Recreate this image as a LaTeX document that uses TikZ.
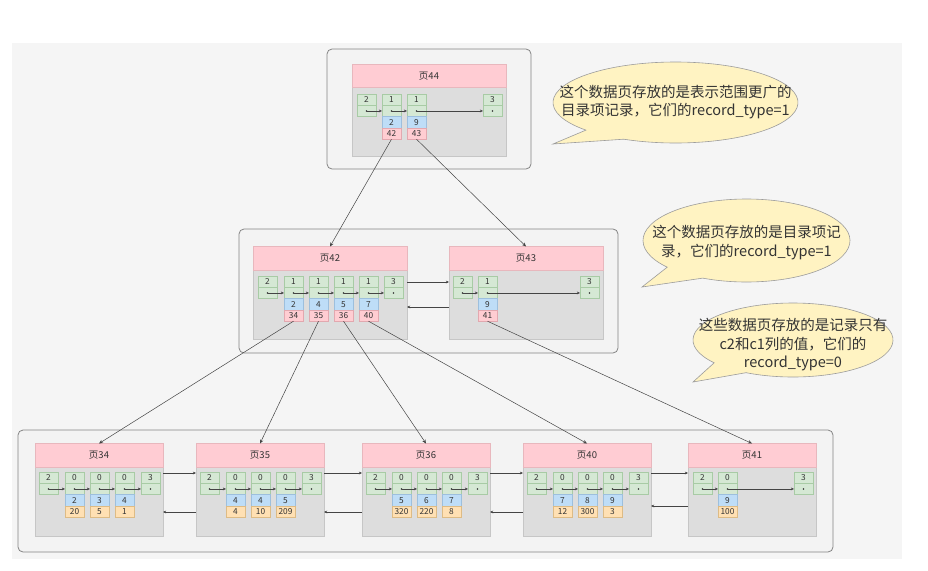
\documentclass[tikz,border=0pt]{standalone}
\usepackage{fontspec}
\setmainfont{Noto Sans CJK SC}
\usetikzlibrary{arrows.meta,positioning}
\definecolor{canvas}{HTML}{F5F5F5}
\definecolor{frameline}{HTML}{848484}
\definecolor{framefill}{HTML}{F3F3F3}
\definecolor{bodyfill}{HTML}{DDDDDD}
\definecolor{bodyline}{HTML}{C6C6C6}
\definecolor{headfill}{HTML}{FFCCD3}
\definecolor{headline}{HTML}{E8B7BD}
\definecolor{greenfill}{HTML}{D5E8D4}
\definecolor{greenline}{HTML}{A8CBA5}
\definecolor{bluefill}{HTML}{BEDDF7}
\definecolor{blueline}{HTML}{9DBFDD}
\definecolor{pinkfill}{HTML}{FFCDD2}
\definecolor{pinkline}{HTML}{E2A8AF}
\definecolor{orangefill}{HTML}{FFE0B3}
\definecolor{orangeline}{HTML}{DDBB85}
\definecolor{notefill}{HTML}{FFF3C2}
\definecolor{noteline}{HTML}{9C9C9C}
\definecolor{ink}{HTML}{333333}
\definecolor{wire}{HTML}{444444}
\tikzset{
  frame/.style={draw=frameline, fill=framefill, rounded corners=5pt, line width=0.8pt},
  pagebody/.style={draw=bodyline, fill=bodyfill, anchor=north west, minimum height=69pt,
                   inner sep=0pt, outer sep=0pt},
  pagehead/.style={draw=headline, fill=headfill, anchor=north west, minimum height=23.5pt,
                   inner sep=0pt, outer sep=0pt, font=\fontsize{9.5}{10}\selectfont, text=ink},
  wide/.style={minimum width=154pt},
  narrow/.style={minimum width=128pt},
  cell/.style={minimum width=19pt, minimum height=11.3pt, inner sep=0pt, outer sep=0pt,
               font=\fontsize{8.3}{9}\selectfont, text=ink},
  typecell/.style={cell, draw=greenline, fill=greenfill, anchor=north west},
  nextcell/.style={cell, draw=greenline, fill=greenfill,
                   path picture={\fill[ink] (path picture bounding box.center) circle (0.9pt);}},
  keycell/.style={cell, draw=blueline, fill=bluefill},
  childcell/.style={cell, draw=pinkline, fill=pinkfill},
  valcell/.style={cell, draw=orangeline, fill=orangefill},
  link/.style={-{Stealth[length=3.2pt,width=2.8pt]}, draw=wire, line width=0.5pt},
  down/.style={-{Stealth[length=4pt,width=3.5pt]}, draw=wire, line width=0.5pt},
  callout/.style={draw=noteline, fill=notefill, line width=0.6pt},
  note/.style={align=center, text=ink, font=\fontsize{14.5}{18.5}\selectfont, inner sep=0pt},
}
\begin{document}
\begin{tikzpicture}[x=1pt, y=-1pt]
  \useasboundingbox (0,0) rectangle (928,570);
  \fill[canvas] (12,43) rectangle (902,559);

  % outer frames
  \draw[frame] (327,49) rectangle (531,169);
  \draw[frame] (239,229) rectangle (618,353);
  \draw[frame] (18,430) rectangle (833,552);

  % pages
  \node[pagebody, wide] (pg44) at (352,87) {};
  \node[pagehead, wide] (pg44h) at (352,64) {页44};
  \node[pagebody, wide] (pg42) at (253,270) {};
  \node[pagehead, wide] (pg42h) at (253,246.5) {页42};
  \node[pagebody, wide] (pg43) at (449,270) {};
  \node[pagehead, wide] (pg43h) at (449,246.5) {页43};
  \node[pagebody, narrow] (pg34) at (35,467) {};
  \node[pagehead, narrow] (pg34h) at (35,443.5) {页34};
  \node[pagebody, narrow] (pg35) at (196,467) {};
  \node[pagehead, narrow] (pg35h) at (196,443.5) {页35};
  \node[pagebody, narrow] (pg36) at (362,467) {};
  \node[pagehead, narrow] (pg36h) at (362,443.5) {页36};
  \node[pagebody, narrow] (pg40) at (523,467) {};
  \node[pagehead, narrow] (pg40h) at (523,443.5) {页40};
  \node[pagebody, narrow] (pg41) at (688,467) {};
  \node[pagehead, narrow] (pg41h) at (688,443.5) {页41};

  % page 44 records
  \node[typecell] (t44a) at (357,94) {2}; \node[nextcell, below=0pt of t44a] (n44a) {};
  \node[typecell] (t44b) at (382,94) {1}; \node[nextcell, below=0pt of t44b] (n44b) {};
  \node[keycell, below=0pt of n44b] (k44b) {2}; \node[childcell, below=0pt of k44b] (c44b) {42};
  \node[typecell] (t44c) at (407,94) {1}; \node[nextcell, below=0pt of t44c] (n44c) {};
  \node[keycell, below=0pt of n44c] (k44c) {9}; \node[childcell, below=0pt of k44c] (c44c) {43};
  \node[typecell] (t44d) at (483,94) {3}; \node[nextcell, below=0pt of t44d] (n44d) {};
  \draw[link] (n44a.center) -- (n44b.west);
  \draw[link] (n44b.center) -- (n44c.west);
  \draw[link] (n44c.center) -- (n44d.west);

  % page 42 records
  \node[typecell] (t42a) at (258,276) {2}; \node[nextcell, below=0pt of t42a] (n42a) {};
  \node[typecell] (t42b) at (284,276) {1}; \node[nextcell, below=0pt of t42b] (n42b) {};
  \node[keycell, below=0pt of n42b] (k42b) {2}; \node[childcell, below=0pt of k42b] (c42b) {34};
  \node[typecell] (t42c) at (309,276) {1}; \node[nextcell, below=0pt of t42c] (n42c) {};
  \node[keycell, below=0pt of n42c] (k42c) {4}; \node[childcell, below=0pt of k42c] (c42c) {35};
  \node[typecell] (t42d) at (334,276) {1}; \node[nextcell, below=0pt of t42d] (n42d) {};
  \node[keycell, below=0pt of n42d] (k42d) {5}; \node[childcell, below=0pt of k42d] (c42d) {36};
  \node[typecell] (t42e) at (359,276) {1}; \node[nextcell, below=0pt of t42e] (n42e) {};
  \node[keycell, below=0pt of n42e] (k42e) {7}; \node[childcell, below=0pt of k42e] (c42e) {40};
  \node[typecell] (t42f) at (384,276) {3}; \node[nextcell, below=0pt of t42f] (n42f) {};
  \draw[link] (n42a.center) -- (n42b.west);
  \draw[link] (n42b.center) -- (n42c.west);
  \draw[link] (n42c.center) -- (n42d.west);
  \draw[link] (n42d.center) -- (n42e.west);
  \draw[link] (n42e.center) -- (n42f.west);

  % page 43 records
  \node[typecell] (t43a) at (453,276) {2}; \node[nextcell, below=0pt of t43a] (n43a) {};
  \node[typecell] (t43b) at (478,276) {1}; \node[nextcell, below=0pt of t43b] (n43b) {};
  \node[keycell, below=0pt of n43b] (k43b) {9}; \node[childcell, below=0pt of k43b] (c43b) {41};
  \node[typecell] (t43c) at (580,276) {3}; \node[nextcell, below=0pt of t43c] (n43c) {};
  \draw[link] (n43a.center) -- (n43b.west);
  \draw[link] (n43b.center) -- (n43c.west);

  % page 34 records
  \node[typecell] (t34a) at (39,472) {2}; \node[nextcell, below=0pt of t34a] (n34a) {};
  \node[typecell] (t34b) at (65,472) {0}; \node[nextcell, below=0pt of t34b] (n34b) {};
  \node[keycell, below=0pt of n34b] (k34b) {2}; \node[valcell, below=0pt of k34b] (v34b) {20};
  \node[typecell] (t34c) at (90,472) {0}; \node[nextcell, below=0pt of t34c] (n34c) {};
  \node[keycell, below=0pt of n34c] (k34c) {3}; \node[valcell, below=0pt of k34c] (v34c) {5};
  \node[typecell] (t34d) at (115,472) {0}; \node[nextcell, below=0pt of t34d] (n34d) {};
  \node[keycell, below=0pt of n34d] (k34d) {4}; \node[valcell, below=0pt of k34d] (v34d) {1};
  \node[typecell] (t34e) at (141,472) {3}; \node[nextcell, below=0pt of t34e] (n34e) {};
  \draw[link] (n34a.center) -- (n34b.west);
  \draw[link] (n34b.center) -- (n34c.west);
  \draw[link] (n34c.center) -- (n34d.west);
  \draw[link] (n34d.center) -- (n34e.west);

  % page 35 records
  \node[typecell] (t35a) at (200,472) {2}; \node[nextcell, below=0pt of t35a] (n35a) {};
  \node[typecell] (t35b) at (226,472) {0}; \node[nextcell, below=0pt of t35b] (n35b) {};
  \node[keycell, below=0pt of n35b] (k35b) {4}; \node[valcell, below=0pt of k35b] (v35b) {4};
  \node[typecell] (t35c) at (251,472) {0}; \node[nextcell, below=0pt of t35c] (n35c) {};
  \node[keycell, below=0pt of n35c] (k35c) {4}; \node[valcell, below=0pt of k35c] (v35c) {10};
  \node[typecell] (t35d) at (276,472) {0}; \node[nextcell, below=0pt of t35d] (n35d) {};
  \node[keycell, below=0pt of n35d] (k35d) {5}; \node[valcell, below=0pt of k35d] (v35d) {209};
  \node[typecell] (t35e) at (302,472) {3}; \node[nextcell, below=0pt of t35e] (n35e) {};
  \draw[link] (n35a.center) -- (n35b.west);
  \draw[link] (n35b.center) -- (n35c.west);
  \draw[link] (n35c.center) -- (n35d.west);
  \draw[link] (n35d.center) -- (n35e.west);

  % page 36 records
  \node[typecell] (t36a) at (366,472) {2}; \node[nextcell, below=0pt of t36a] (n36a) {};
  \node[typecell] (t36b) at (392,472) {0}; \node[nextcell, below=0pt of t36b] (n36b) {};
  \node[keycell, below=0pt of n36b] (k36b) {5}; \node[valcell, below=0pt of k36b] (v36b) {320};
  \node[typecell] (t36c) at (417,472) {0}; \node[nextcell, below=0pt of t36c] (n36c) {};
  \node[keycell, below=0pt of n36c] (k36c) {6}; \node[valcell, below=0pt of k36c] (v36c) {220};
  \node[typecell] (t36d) at (442,472) {0}; \node[nextcell, below=0pt of t36d] (n36d) {};
  \node[keycell, below=0pt of n36d] (k36d) {7}; \node[valcell, below=0pt of k36d] (v36d) {8};
  \node[typecell] (t36e) at (468,472) {3}; \node[nextcell, below=0pt of t36e] (n36e) {};
  \draw[link] (n36a.center) -- (n36b.west);
  \draw[link] (n36b.center) -- (n36c.west);
  \draw[link] (n36c.center) -- (n36d.west);
  \draw[link] (n36d.center) -- (n36e.west);

  % page 40 records
  \node[typecell] (t40a) at (527,472) {2}; \node[nextcell, below=0pt of t40a] (n40a) {};
  \node[typecell] (t40b) at (553,472) {0}; \node[nextcell, below=0pt of t40b] (n40b) {};
  \node[keycell, below=0pt of n40b] (k40b) {7}; \node[valcell, below=0pt of k40b] (v40b) {12};
  \node[typecell] (t40c) at (578,472) {0}; \node[nextcell, below=0pt of t40c] (n40c) {};
  \node[keycell, below=0pt of n40c] (k40c) {8}; \node[valcell, below=0pt of k40c] (v40c) {300};
  \node[typecell] (t40d) at (603,472) {0}; \node[nextcell, below=0pt of t40d] (n40d) {};
  \node[keycell, below=0pt of n40d] (k40d) {9}; \node[valcell, below=0pt of k40d] (v40d) {3};
  \node[typecell] (t40e) at (629,472) {3}; \node[nextcell, below=0pt of t40e] (n40e) {};
  \draw[link] (n40a.center) -- (n40b.west);
  \draw[link] (n40b.center) -- (n40c.west);
  \draw[link] (n40c.center) -- (n40d.west);
  \draw[link] (n40d.center) -- (n40e.west);

  % page 41 records
  \node[typecell] (t41a) at (693,472) {2}; \node[nextcell, below=0pt of t41a] (n41a) {};
  \node[typecell] (t41b) at (718,472) {0}; \node[nextcell, below=0pt of t41b] (n41b) {};
  \node[keycell, below=0pt of n41b] (k41b) {9}; \node[valcell, below=0pt of k41b] (v41b) {100};
  \node[typecell] (t41c) at (794,472) {3}; \node[nextcell, below=0pt of t41c] (n41c) {};
  \draw[link] (n41a.center) -- (n41b.west);
  \draw[link] (n41b.center) -- (n41c.west);

  % links between sibling pages
  \draw[link] (pg42.east |- 0,282) -- (pg43.west |- 0,282);
  \draw[link] (pg43.west |- 0,307) -- (pg42.east |- 0,307);
  \draw[link] (pg34.east |- 0,473) -- (pg35.west |- 0,473);
  \draw[link] (pg35.west |- 0,512) -- (pg34.east |- 0,512);
  \draw[link] (pg35.east |- 0,473) -- (pg36.west |- 0,473);
  \draw[link] (pg36.west |- 0,512) -- (pg35.east |- 0,512);
  \draw[link] (pg36.east |- 0,473) -- (pg40.west |- 0,473);
  \draw[link] (pg40.west |- 0,512) -- (pg36.east |- 0,512);
  \draw[link] (pg40.east |- 0,473) -- (pg41.west |- 0,473);
  \draw[link] (pg41.west |- 0,506) -- (pg40.east |- 0,506);

  % child pointers
  \draw[down] (c44b.south) -- (pg42h.north);
  \draw[down] (c44c.south) -- (pg43h.north);
  \draw[down] (c42b.south) -- (pg34h.north);
  \draw[down] (c42c.south) -- (pg35h.north);
  \draw[down] (c42d.south) -- (pg36h.north);
  \draw[down] (c42e.south) -- (pg40h.north);
  \draw[down] (c43b.south) -- (pg41h.north);

  % callouts
  \draw[callout] (675.5,102.5) ++(137:122.5 and 40.5)
    arc[start angle=137, end angle=475, x radius=122.5, y radius=40.5] -- (553,144) -- cycle;
  \node[note] (note44) at (675.5,102) {这个数据页存放的是表示范围更广的\\目录项记录，它们的record\_type=1};
  \draw[callout] (746.5,240.5) ++(140:103.5 and 41.5)
    arc[start angle=140, end angle=475, x radius=103.5, y radius=41.5] -- (642,287) -- cycle;
  \node[note] (note42) at (746.5,242.5) {这个数据页存放的是目录项记\\录，它们的record\_type=1};
  \draw[callout] (793,340) ++(142:100 and 37)
    arc[start angle=142, end angle=478, x radius=100, y radius=37] -- (693,382) -- cycle;
  \node[note] (note34) at (793,345) {这些数据页存放的是记录只有\\c2和c1列的值，它们的\\record\_type=0};
\end{tikzpicture}
\end{document}
